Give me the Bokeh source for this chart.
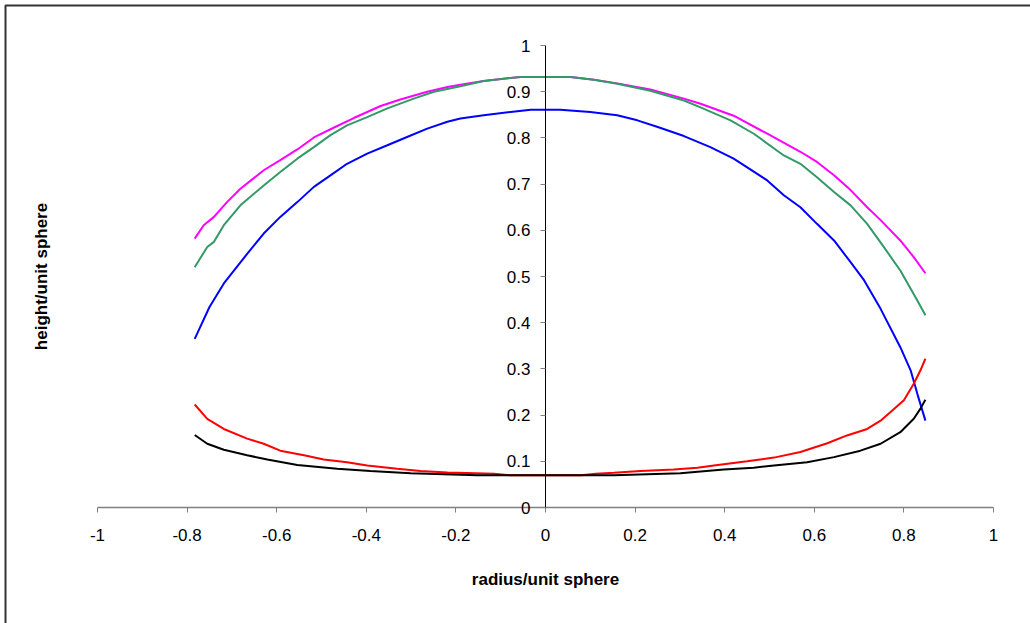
from bokeh.plotting import figure
from bokeh.models import LinearAxis, FixedTicker, BoxAnnotation, Range1d
from bokeh.embed import file_html
from bokeh.resources import INLINE

# ---- data ----
x_ticks = [-1, -0.8, -0.6, -0.4, -0.2, 0, 0.2, 0.4, 0.6, 0.8, 1]
x_tick_labels = ["-1", "-0.8", "-0.6", "-0.4", "-0.2", "0", "0.2", "0.4", "0.6", "0.8", "1"]
y_ticks = [0, 0.1, 0.2, 0.3, 0.4, 0.5, 0.6, 0.7, 0.8, 0.9, 1]
y_tick_labels = ["0", "0.1", "0.2", "0.3", "0.4", "0.5", "0.6", "0.7", "0.8", "0.9", "1"]

magenta_x = [-0.783, -0.763, -0.740, -0.711, -0.681, -0.629, -0.592, -0.554, -0.517, -0.473,
             -0.428, -0.368, -0.324, -0.264, -0.219, -0.190, -0.138, -0.056, 0.056, 0.108,
             0.160, 0.234, 0.309, 0.346, 0.420, 0.495, 0.569, 0.606, 0.644, 0.681,
             0.718, 0.748, 0.792, 0.822, 0.848]
magenta_y = [0.582, 0.611, 0.629, 0.661, 0.690, 0.730, 0.752, 0.775, 0.801, 0.822,
             0.843, 0.869, 0.883, 0.900, 0.910, 0.915, 0.923, 0.932, 0.932, 0.926,
             0.918, 0.905, 0.885, 0.874, 0.848, 0.809, 0.770, 0.748, 0.719, 0.687,
             0.650, 0.622, 0.578, 0.542, 0.507]

green_x = [-0.783, -0.755, -0.740, -0.718, -0.681, -0.629, -0.592, -0.554, -0.517, -0.480,
           -0.443, -0.398, -0.353, -0.294, -0.249, -0.190, -0.138, -0.056, 0.056, 0.108,
           0.160, 0.234, 0.309, 0.346, 0.413, 0.465, 0.532, 0.569, 0.606, 0.644,
           0.681, 0.718, 0.755, 0.792, 0.830, 0.848]
green_y = [0.520, 0.564, 0.575, 0.611, 0.654, 0.697, 0.726, 0.755, 0.780, 0.806,
           0.827, 0.845, 0.864, 0.885, 0.900, 0.912, 0.923, 0.932, 0.932, 0.926,
           0.917, 0.902, 0.881, 0.866, 0.838, 0.809, 0.762, 0.744, 0.715, 0.683,
           0.654, 0.614, 0.564, 0.513, 0.448, 0.416]

blue_x = [-0.783, -0.750, -0.718, -0.666, -0.629, -0.592, -0.554, -0.517, -0.480, -0.443,
          -0.398, -0.353, -0.309, -0.264, -0.219, -0.190, -0.138, -0.078, -0.033, 0.033,
          0.100, 0.160, 0.205, 0.249, 0.309, 0.368, 0.420, 0.495, 0.532, 0.569,
          0.606, 0.644, 0.681, 0.711, 0.748, 0.792, 0.815, 0.830, 0.848]
blue_y = [0.365, 0.434, 0.485, 0.549, 0.593, 0.629, 0.661, 0.694, 0.719, 0.744,
          0.766, 0.784, 0.802, 0.820, 0.835, 0.842, 0.849, 0.856, 0.861, 0.861,
          0.856, 0.849, 0.838, 0.824, 0.804, 0.780, 0.755, 0.708, 0.676, 0.650,
          0.614, 0.578, 0.531, 0.492, 0.430, 0.347, 0.297, 0.246, 0.188]

red_x = [-0.783, -0.755, -0.718, -0.666, -0.629, -0.592, -0.539, -0.495, -0.443, -0.398,
         -0.331, -0.279, -0.219, -0.115, -0.080, 0.080, 0.112, 0.153, 0.212, 0.286,
         0.339, 0.376, 0.450, 0.510, 0.569, 0.629, 0.673, 0.718, 0.748, 0.800,
         0.822, 0.837, 0.848]
red_y = [0.223, 0.192, 0.170, 0.149, 0.138, 0.123, 0.113, 0.104, 0.098, 0.091,
         0.084, 0.079, 0.076, 0.073, 0.070, 0.070, 0.073, 0.075, 0.079, 0.082,
         0.086, 0.091, 0.100, 0.108, 0.120, 0.139, 0.156, 0.170, 0.188, 0.232,
         0.268, 0.297, 0.322]

black_x = [-0.783, -0.755, -0.718, -0.666, -0.621, -0.554, -0.465, -0.391, -0.301, -0.152,
           0.153, 0.301, 0.398, 0.465, 0.510, 0.584, 0.644, 0.703, 0.748, 0.792,
           0.822, 0.837, 0.848]
black_y = [0.157, 0.138, 0.125, 0.113, 0.104, 0.092, 0.084, 0.079, 0.074, 0.070,
           0.070, 0.074, 0.082, 0.086, 0.091, 0.098, 0.109, 0.123, 0.138, 0.163,
           0.192, 0.214, 0.233]

FONT = "Liberation Sans"
W, H = 1030, 623
# plot-area placement in pixels (x=-1..1 -> 97..993, y=0..1 -> 507..45)
PX_L, PX_R, PX_T, PX_B = 97, 993, 45, 507
sx = (PX_R - PX_L) / 2.0
sy = (PX_B - PX_T) / 1.0
x_range = Range1d(-1 - PX_L / sx, 1 + (W - PX_R) / sx)
y_range = Range1d(-(H - PX_B) / sy, 1 + PX_T / sy)

p = figure(width=W, height=H, x_range=x_range, y_range=y_range,
           output_backend="svg", toolbar_location=None,
           x_axis_location=None, y_axis_location=None,
           min_border=0, min_border_left=0, min_border_right=0,
           min_border_top=0, min_border_bottom=0)
p.grid.visible = False
p.outline_line_color = None
p.background_fill_color = "white"
p.border_fill_color = "white"

# x axis at y = 0
xa = LinearAxis(fixed_location=0, bounds=(-1, 1), ticker=FixedTicker(ticks=x_ticks))
xa.major_label_overrides = dict(zip(x_ticks, x_tick_labels))
xa.minor_tick_line_color = None
xa.major_tick_in = 0
xa.major_tick_out = 5
xa.axis_line_color = "#808080"
xa.axis_line_width = 1.5
xa.major_tick_line_color = "#808080"
xa.major_label_text_font = FONT
xa.major_label_text_font_size = "17px"
xa.major_label_text_color = "black"
xa.major_label_standoff = 16
xa.axis_label = "radius/unit sphere"
xa.axis_label_text_font = FONT
xa.axis_label_text_font_size = "17px"
xa.axis_label_text_font_style = "bold"
xa.axis_label_text_color = "black"
xa.axis_label_standoff = 26
p.add_layout(xa, "below")

# y axis crossing at x = 0
yc = LinearAxis(fixed_location=0, bounds=(0, 1), ticker=FixedTicker(ticks=y_ticks))
yc.major_label_overrides = dict(zip(y_ticks, y_tick_labels))
yc.minor_tick_line_color = None
yc.major_tick_in = 0
yc.major_tick_out = 5
yc.axis_line_color = "black"
yc.axis_line_width = 1
yc.major_tick_line_color = "#808080"
yc.major_label_text_font = FONT
yc.major_label_text_font_size = "17px"
yc.major_label_text_color = "black"
yc.major_label_standoff = 10
p.add_layout(yc, "left")

# y title, carried by a tick-less axis at the left side
yt = LinearAxis(fixed_location=-1 - (PX_L - 50) / sx, bounds=(0, 1), ticker=FixedTicker(ticks=[]))
yt.axis_line_color = None
yt.major_tick_out = 0
yt.major_tick_in = 0
yt.minor_tick_line_color = None
yt.axis_label = "height/unit sphere"
yt.axis_label_text_font = FONT
yt.axis_label_text_font_size = "17px"
yt.axis_label_text_font_style = "bold"
yt.axis_label_text_color = "black"
yt.axis_label_standoff = 0
p.add_layout(yt, "left")

lw = 2
p.line(magenta_x, magenta_y, line_color="#FF00FF", line_width=lw)
p.line(green_x, green_y, line_color="#339966", line_width=lw)
p.line(blue_x, blue_y, line_color="#0000FF", line_width=lw)
p.line(red_x, red_y, line_color="#FF0000", line_width=lw)
p.line(black_x, black_y, line_color="#000000", line_width=lw)

# chart-area border (left and top visible)
border = BoxAnnotation(left=5, right=1100, top=5, bottom=700,
                       left_units="canvas", right_units="canvas",
                       top_units="canvas", bottom_units="canvas",
                       fill_color=None, fill_alpha=0,
                       line_color="#333333", line_alpha=1.0, line_width=2)
p.add_layout(border)

open("out.html", "w").write(file_html(p, INLINE))
